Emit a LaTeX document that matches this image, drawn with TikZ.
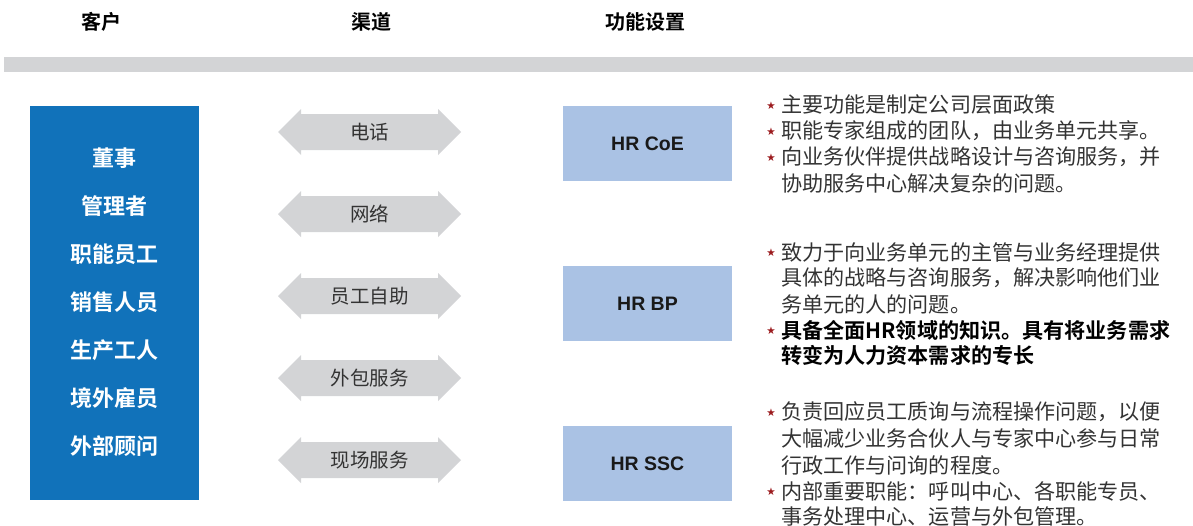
\documentclass[tikz,border=0pt]{standalone}
\usepackage{fontspec}
\setmainfont{Noto Sans CJK SC}
\newfontfamily\cjkb{Noto Sans CJK SC Bold}
\newfontfamily\latb{Liberation Sans Bold}
\newfontfamily\symf{DejaVu Sans}
\definecolor{cblue}{HTML}{1172BA}
\definecolor{lblue}{HTML}{AAC2E4}
\definecolor{lgray}{HTML}{D3D4D6}
\definecolor{tgray}{HTML}{333333}
\definecolor{dred}{HTML}{9B1B1E}
\tikzset{
  head/.style={font=\cjkb\fontsize{20}{22}\selectfont, text=black},
  client/.style={font=\cjkb\fontsize{22}{24}\selectfont, text=white},
  chan/.style={fill=lgray, draw=none},
  chanlbl/.style={font=\fontsize{19.5}{21}\selectfont, text=tgray},
  hrbox/.style={fill=lblue, draw=none, minimum width=169pt, minimum height=75pt, inner sep=0pt, font=\latb\fontsize{19.5}{22}\selectfont, text=black!90},
  ln/.style={anchor=west, inner sep=0pt, font=\fontsize{21.1}{24}\selectfont, text=tgray},
  lnb/.style={anchor=west, inner sep=0pt, font=\cjkb\fontsize{21.1}{24}\selectfont, text=black},
  star/.style={inner sep=0pt, font=\symf\fontsize{10.5}{11}\selectfont, text=dred},
}
\begin{document}
\begin{tikzpicture}[x=1pt,y=-1pt]
\useasboundingbox (0,0) rectangle (1193,525);
% headers
\node[head] (h1) at (101,22) {客户};
\node[head] (h2) at (371,22) {渠道};
\node[head] (h3) at (645,22) {功能设置};
% gray bar
\fill[lgray] (4,57) rectangle (1193,72);
% client box
\node[fill=cblue, minimum width=169pt, minimum height=394pt, inner sep=0pt] (cl) at (114.5,303) {};
\foreach \t [count=\i] in {董事,管理者,职能员工,销售人员,生产工人,境外雇员,外部顾问}{
  \node[client] (c\i) at (114.5,{158+(\i-1)*48}) {\t};
}
% channel arrows
\foreach \t [count=\i] in {电话,网络,员工自助,外包服务,现场服务}{
  \pgfmathsetmacro{\yy}{132+(\i-1)*82}
  \fill[lgray] (278,\yy) -- (301,\yy-23) -- (301,\yy-18) -- (438,\yy-18) -- (438,\yy-23) -- (461,\yy) -- (438,\yy+23) -- (438,\yy+18) -- (301,\yy+18) -- (301,\yy+23) -- cycle;
  \node[chanlbl] (ch\i) at (369.5,\yy) {\t};
}
% HR boxes
\node[hrbox] (coe) at (647.5,143.5) {HR CoE};
\node[hrbox] (bp) at (647.5,303.5) {HR BP};
\node[hrbox] (ssc) at (647.5,463.5) {HR SSC};
% CoE text
\node[star] (s1) at (771,106) {★};
\node[ln] (a1) at (781,105) {主要功能是制定公司层面政策};
\node[star] (s2) at (771,132) {★};
\node[ln] (a2) at (781,131) {职能专家组成的团队，由业务单元共享。};
\node[star] (s3) at (771,158) {★};
\node[ln] (a3) at (781,157) {向业务伙伴提供战略设计与咨询服务，并};
\node[ln] (a4) at (781,183) {协助服务中心解决复杂的问题。};
% BP text
\node[star] (s4) at (771,253) {★};
\node[ln] (b1) at (781,252) {致力于向业务单元的主管与业务经理提供};
\node[ln] (b2) at (781,278) {具体的战略与咨询服务，解决影响他们业};
\node[ln] (b3) at (781,304) {务单元的人的问题。};
\node[star] (s5) at (771,331) {★};
\node[lnb] (b4) at (781,330) {具备全面HR领域的知识。具有将业务需求};
\node[lnb] (b5) at (781,355) {转变为人力资本需求的专长};
% SSC text
\node[star] (s6) at (771,413) {★};
\node[ln] (d1) at (781,412) {负责回应员工质询与流程操作问题，以便};
\node[ln] (d2) at (781,438.5) {大幅减少业务合伙人与专家中心参与日常};
\node[ln] (d3) at (781,465) {行政工作与问询的程度。};
\node[star] (s7) at (771,492) {★};
\node[ln] (d4) at (781,491) {内部重要职能：呼叫中心、各职能专员、};
\node[ln] (d5) at (781,516) {事务处理中心、运营与外包管理。};
\end{tikzpicture}
\end{document}
